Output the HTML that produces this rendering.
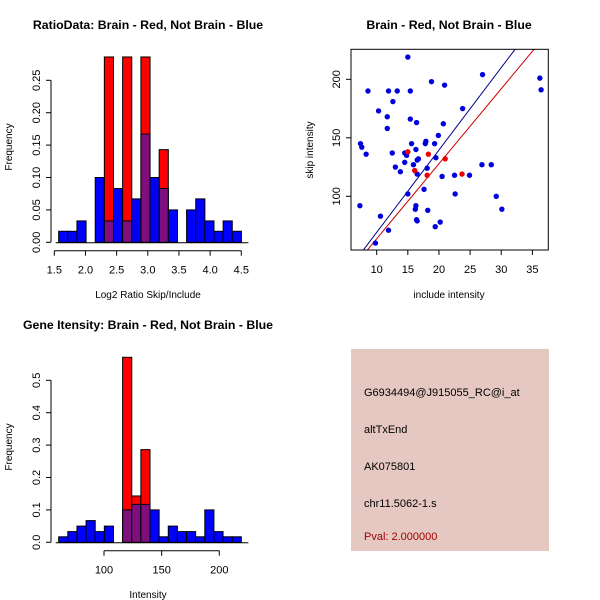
<!DOCTYPE html>
<html><head><meta charset="utf-8"><style>
html,body{margin:0;padding:0;background:#fff;}
svg{display:block;font-family:"Liberation Sans",sans-serif;}
</style></head><body>
<svg id="s" width="600" height="600" xmlns="http://www.w3.org/2000/svg">
<rect width="600" height="600" fill="#fff"/>
<text x="148" y="29" font-size="12.3" font-weight="bold" text-anchor="middle">RatioData: Brain - Red, Not Brain - Blue</text>
<text x="449" y="29" font-size="12.3" font-weight="bold" text-anchor="middle">Brain - Red, Not Brain - Blue</text>
<text x="148" y="329" font-size="12.3" font-weight="bold" text-anchor="middle">Gene Itensity: Brain - Red, Not Brain - Blue</text>
<text x="148" y="298" font-size="10" text-anchor="middle">Log2 Ratio Skip/Include</text>
<text transform="translate(12,147) rotate(-90)" font-size="10" text-anchor="middle">Frequency</text>
<text x="449" y="298" font-size="10" text-anchor="middle">include intensity</text>
<text transform="translate(313,150) rotate(-90)" font-size="10" text-anchor="middle">skip intensity</text>
<text x="148" y="598" font-size="10" text-anchor="middle">Intensity</text>
<text transform="translate(12,447) rotate(-90)" font-size="10" text-anchor="middle">Frequency</text>
<g>
<rect x="351" y="349" width="198" height="202" fill="#e6c8c2"/>
<text x="364" y="396" font-size="11">G6934494@J915055_RC@i_at</text>
<text x="364" y="433" font-size="11">altTxEnd</text>
<text x="364" y="470" font-size="11">AK075801</text>
<text x="364" y="507" font-size="11">chr11.5062-1.s</text>
<text x="364" y="540" font-size="11" fill="#a00000">Pval: 2.000000</text>
</g>
<g id="h1"></g>
<g id="sc"></g>
<g id="h2"></g>
</svg>
<script>
// Ratio histogram
const ratioBinStart = 1.57, ratioBinWidth = 0.1466;
const ratioBlue = [0.017,0.017,0.033,0,0.1,0.033,0.083,0.033,0.067,0.167,0.1,0.083,0.05,0,0.05,0.067,0.033,0.017,0.033,0.017];
const ratioRed  = [0,0,0,0,0,0.286,0,0.286,0,0.286,0,0.143,0,0,0,0,0,0,0,0];
const ratioXTicks = [1.5,2.0,2.5,3.0,3.5,4.0,4.5];
const ratioYTicks = [0.00,0.05,0.10,0.15,0.20,0.25];
// Intensity histogram
const intBinStart = 60.7, intBinWidth = 7.92;
const intBlue = [0.017,0.033,0.05,0.067,0.033,0.05,0,0.1,0.117,0.117,0.1,0.017,0.05,0.033,0.033,0.017,0.1,0.033,0.017,0.017];
const intRed  = [0,0,0,0,0,0,0,0.571,0.143,0.286,0,0,0,0,0,0,0,0,0,0];
const intXTicks = [100,150,200];
const intYTicks = [0.0,0.1,0.2,0.3,0.4,0.5];
// Scatter
const blueX = [15.0,7.3,7.4,7.6,8.3,8.6,9.8,10.3,10.6,11.7,11.7,11.9,11.9,12.6,12.5,13.0,13.3,13.8,14.5,14.5,14.8,15.0,15.4,15.4,15.6,15.9,16.2,16.3,16.4,16.4,16.3,16.5,16.5,16.7,16.5,17.6,17.8,17.9,18.1,18.2,18.8,19.3,19.4,19.5,19.9,20.2,20.5,20.9,20.7,22.5,22.6,23.8,24.9,26.9,27.0,28.4,29.2,30.1,36.2,36.4];
const blueY = [219,92,145,142,136,190,60,173,83,168,158,190,71,181,137,125,190,121,129,137,135,102,190,166,145,127,89,140,163,80,92,119,131,132,79,106,145,147,124,88,198,145,74,133,152,78,117,195,162,118,102,175,118,127,204,127,100,89,201,191];
const redX = [15.0,16.1,18.1,18.3,21.0,23.7];
const redY = [138,122,118,136,132,119];
const scXTicks = [10,15,20,25,30,35];
const scYTicks = [100,150,200];
const lineBlue = [-1.2, 7.04]; // intercept, slope
const lineRed = [-0.4, 6.41];

const NS="http://www.w3.org/2000/svg";
function mk(parent,tag,attrs){const e=document.createElementNS(NS,tag);for(const k in attrs)e.setAttribute(k,attrs[k]);parent.appendChild(e);return e;}

function hist(g, binStart, binW, blue, red, xt, yt, sx, sy, axisY, prefix, yfmt){
  for(let i=0;i<blue.length;i++){
    const x0=sx(binStart+i*binW), x1=sx(binStart+(i+1)*binW);
    if(red[i]>0){
      const r=mk(g,'rect',{x:x0,y:sy(red[i]),width:x1-x0,height:sy(0)-sy(red[i]),fill:'#ff0000',stroke:'#000','stroke-width':1});
      
      
    }
    if(blue[i]>0){
      const b=mk(g,'rect',{x:x0,y:sy(blue[i]),width:x1-x0,height:sy(0)-sy(blue[i]),fill:red[i]>0?'#7f0f7f':'#0000ff',stroke:'#000','stroke-width':1});
      
      
    }
  }
  mk(g,'line',{x1:sx(binStart)-3,x2:sx(binStart+blue.length*binW)+7,y1:sy(0)+0.5,y2:sy(0)+0.5,stroke:'#000'});
  const xa=mk(g,'g',{});
  
  
  mk(xa,'line',{x1:sx(xt[0]),x2:sx(xt[xt.length-1]),y1:axisY,y2:axisY,stroke:'#000'});
  xt.forEach(v=>{mk(xa,'line',{x1:sx(v),x2:sx(v),y1:axisY,y2:axisY+5,stroke:'#000'});
    const t=mk(xa,'text',{x:sx(v),y:axisY+23,'font-size':11,'text-anchor':'middle'});t.textContent=(xt[0]<10?v.toFixed(1):v);
    
    });
  const ya=mk(g,'g',{});
  
  
  mk(ya,'line',{x1:51,x2:51,y1:sy(yt[0]),y2:sy(yt[yt.length-1]),stroke:'#000'});
  yt.forEach(v=>{mk(ya,'line',{x1:46,x2:51,y1:sy(v),y2:sy(v),stroke:'#000'});
    const t=mk(ya,'text',{transform:`translate(40,${sy(v)}) rotate(-90)`,'font-size':11,'text-anchor':'middle'});t.textContent=v.toFixed(yfmt);
    
    });
}
hist(document.getElementById('h1'),ratioBinStart,ratioBinWidth,ratioBlue,ratioRed,ratioXTicks,ratioYTicks,
  v=>54.3+(v-1.5)*62.33, v=>242.3-v*648, 250.7,'ratio',2);
hist(document.getElementById('h2'),intBinStart,intBinWidth,intBlue,intRed,intXTicks,intYTicks,
  v=>104+(v-100)*1.153, v=>542.3-v*324, 550.7,'intensity',1);

const g=document.getElementById('sc');
const L=351,R=548.3,T=49.3,B=250;
const sx=v=>376.7+(v-10)*6.227, sy=v=>79.3-(v-200)*1.17;
const clip=mk(g,'clipPath',{id:'cp'});mk(clip,'rect',{x:L,y:T,width:R-L,height:B-T});
const lg=mk(g,'g',{'clip-path':'url(#cp)'});
[[lineBlue,'#00008b','blue-fit-line'],[lineRed,'#cc0000','red-fit-line']].forEach(([c,col,n])=>{
  const l=mk(lg,'line',{x1:sx(0),y1:sy(c[0]),x2:sx(40),y2:sy(c[0]+c[1]*40),stroke:col,'stroke-width':1});
  
  
});
blueX.forEach((x,i)=>{const c=mk(g,'circle',{cx:sx(x),cy:sy(blueY[i]),r:2.7,fill:'#0000dd'});
  
  });
redX.forEach((x,i)=>{const c=mk(g,'circle',{cx:sx(x),cy:sy(redY[i]),r:2.7,fill:'#ee0000'});
  
  });
mk(g,'rect',{x:L,y:T,width:R-L,height:B-T,fill:'none',stroke:'#000'});
scXTicks.forEach(v=>{mk(g,'line',{x1:sx(v),x2:sx(v),y1:B,y2:B+5,stroke:'#000'});
  const t=mk(g,'text',{x:sx(v),y:B+23,'font-size':11,'text-anchor':'middle'});t.textContent=v;
  
  });
scYTicks.forEach(v=>{mk(g,'line',{x1:L-5,x2:L,y1:sy(v),y2:sy(v),stroke:'#000'});
  const t=mk(g,'text',{transform:`translate(${L-11},${sy(v)}) rotate(-90)`,'font-size':11,'text-anchor':'middle'});t.textContent=v;
  
  });
</script>
</body></html>
